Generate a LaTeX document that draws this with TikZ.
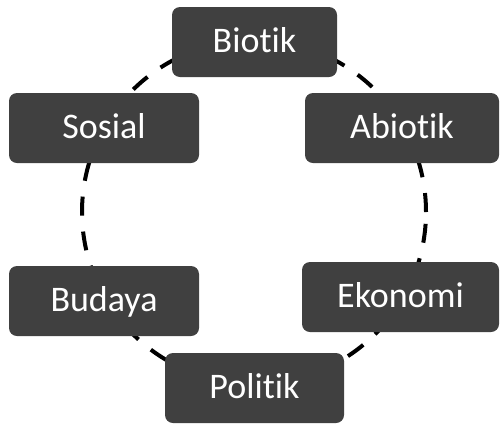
\documentclass[tikz,border=0pt]{standalone}
\usepackage{fontspec}
\setmainfont{Carlito}[Ligatures=NoCommon]
\definecolor{boxgrey}{HTML}{404040}
\tikzset{
  box/.style={fill=boxgrey, rounded corners=8pt, text=white, inner sep=0pt,
    minimum height=70pt, text height=22pt, text depth=2pt,
    font=\fontsize{36}{40}\selectfont},
  ring/.style={line width=4pt, dash pattern=on 19pt off 16pt}
}

\begin{document}
\begin{tikzpicture}[x=1pt,y=-1pt]
		%%%%% START %%%%%
		\useasboundingbox (0,0) rectangle (500,424);
		
		\coordinate (mid) at (254,212);
		\draw[ring] (mid) circle [radius=172pt];
		
		\node[box, minimum width=165pt] (biotik) at (254.5,42) {Biotik};
		\node[box, minimum width=194pt] (abiotik) at (402,128) {Abiotik};
		\node[box, minimum width=197pt] (ekonomi) at (400.5,297) {Ekonomi};
		\node[box, minimum width=179pt] (politik) at (254.5,388) {Politik};
		\node[box, minimum width=190pt] (budaya) at (104,301) {Budaya};
		\node[box, minimum width=190pt] (sosial) at (104,128) {Sosial};
		
		%%%%% END %%%%%
	\end{tikzpicture}
\end{document}
